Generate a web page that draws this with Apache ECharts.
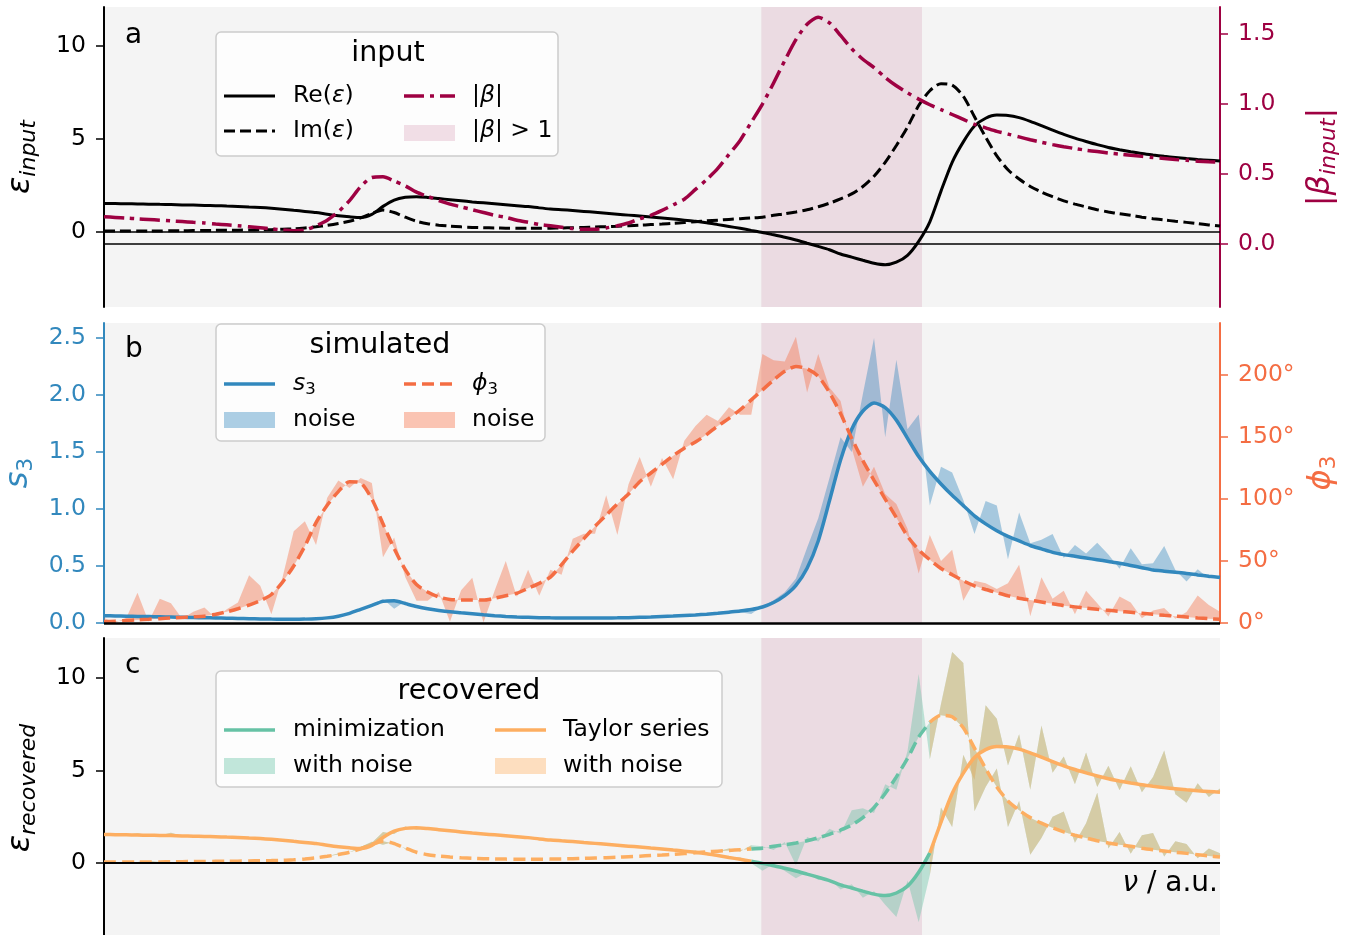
<!DOCTYPE html>
<html>
<head>
<meta charset="utf-8">
<script src="https://cdn.jsdelivr.net/npm/echarts@6/dist/echarts.min.js"></script>
<style>
html, body { margin: 0; background: #fff; }
#chart { width: 1354px; height: 935px; }
</style>
</head>
<body>
<div id="chart"></div>
<script>
// frequency grid (a.u.)
const nu = [0,1,2,3,4,5,6,7,8,9,10,11,12,13,14,15,16,17,18,19,20,21,22,23,24,25,26,27,28,29,
  30,31,32,33,34,35,36,37,38,39,40,41,42,43,44,45,46,47,48,49,50,51,52,53,54,55,56,57,58,59,
  60,61,62,63,64,65,66,67,68,69,70,71,72,73,74,75,76,77,78,79,80,81,82,83,84,85,86,87,88,89,
  90,91,92,93,94,95,96,97,98,99,100];

// input permittivity
const epsRe = [1.54,1.53,1.52,1.51,1.50,1.49,1.48,1.46,1.45,1.43,
  1.42,1.40,1.38,1.35,1.32,1.28,1.23,1.17,1.11,1.05,
  0.96,0.88,0.82,0.78,0.95,1.38,1.72,1.87,1.90,1.86,
  1.80,1.74,1.68,1.62,1.57,1.52,1.47,1.42,1.37,1.30,
  1.24,1.20,1.16,1.11,1.06,1.01,0.96,0.91,0.86,0.81,
  0.76,0.70,0.64,0.58,0.50,0.40,0.30,0.20,0.09,-0.02,
  -0.15,-0.28,-0.43,-0.60,-0.77,-0.95,-1.18,-1.35,-1.52,-1.68,
  -1.76,-1.62,-1.25,-0.50,0.55,2.20,3.75,4.85,5.70,6.12,
  6.29,6.27,6.15,5.95,5.72,5.48,5.25,5.05,4.87,4.70,
  4.55,4.43,4.32,4.22,4.14,4.07,4.01,3.95,3.90,3.86,
  3.82];
const epsIm = [0.05,0.05,0.05,0.06,0.06,0.06,0.07,0.07,0.08,0.08,
  0.09,0.10,0.10,0.11,0.12,0.13,0.15,0.17,0.22,0.28,
  0.36,0.46,0.58,0.76,1.00,1.18,1.05,0.80,0.58,0.45,
  0.37,0.32,0.28,0.25,0.23,0.22,0.21,0.20,0.20,0.20,
  0.21,0.22,0.23,0.25,0.27,0.29,0.31,0.34,0.37,0.40,
  0.43,0.47,0.51,0.55,0.60,0.64,0.68,0.72,0.76,0.80,
  0.90,0.98,1.08,1.20,1.36,1.55,1.78,2.05,2.45,3.00,
  3.75,4.65,5.65,6.80,7.60,7.98,7.90,7.30,6.20,5.10,
  4.10,3.35,2.85,2.45,2.15,1.90,1.68,1.50,1.35,1.20,
  1.08,0.98,0.90,0.80,0.72,0.65,0.58,0.52,0.45,0.38,
  0.32];
const beta = [0.195,0.19,0.185,0.18,0.175,0.17,0.165,0.16,0.155,0.15,
  0.143,0.137,0.13,0.123,0.116,0.108,0.10,0.095,0.10,0.13,
  0.17,0.23,0.31,0.41,0.475,0.48,0.45,0.415,0.37,0.34,
  0.31,0.285,0.265,0.245,0.225,0.205,0.19,0.17,0.155,0.14,
  0.13,0.12,0.11,0.105,0.105,0.115,0.13,0.15,0.18,0.205,
  0.24,0.28,0.32,0.39,0.46,0.54,0.64,0.74,0.87,1.0,
  1.15,1.31,1.46,1.57,1.62,1.58,1.49,1.395,1.32,1.26,
  1.19,1.13,1.08,1.035,0.995,0.96,0.925,0.89,0.855,0.83,
  0.805,0.785,0.765,0.745,0.727,0.71,0.695,0.682,0.67,0.66,
  0.65,0.642,0.634,0.626,0.618,0.611,0.604,0.598,0.592,0.587,
  0.584];
const bigBeta = [58.9, 73.3];

// simulated signal
const s3 = [0.064,0.062,0.06,0.058,0.056,0.054,0.052,0.05,0.048,0.046,
  0.044,0.042,0.04,0.038,0.036,0.034,0.033,0.033,0.034,0.037,
  0.045,0.06,0.085,0.12,0.155,0.19,0.195,0.17,0.145,0.125,
  0.11,0.098,0.09,0.082,0.072,0.064,0.058,0.053,0.05,0.047,
  0.045,0.044,0.043,0.043,0.043,0.044,0.045,0.047,0.05,0.053,
  0.057,0.061,0.066,0.071,0.077,0.085,0.095,0.105,0.118,0.14,
  0.18,0.24,0.33,0.48,0.72,1.07,1.43,1.70,1.86,1.93,
  1.89,1.78,1.62,1.46,1.33,1.22,1.12,1.03,0.94,0.87,
  0.81,0.76,0.72,0.68,0.65,0.62,0.60,0.585,0.57,0.555,
  0.54,0.525,0.505,0.485,0.465,0.455,0.445,0.435,0.422,0.41,
  0.40];
const phi3 = [1,1.5,2,2.5,3,3.5,4,4.5,5,5.5,
  7,9,11.5,14.5,18,23,33,46,62,81,
  95,106,114,113,100,80,60,43,31,25,
  21,19,18.5,18.5,18.5,20,22,24,28,32,
  37,47,58,68,78,87,96,104,114,121,
  128,135,141,146,152,159,165,172,180,188,
  196,203,207,205,199,186,169,149,131,115,
  100,85,70,59,51,44,39,34,30,27,
  24.5,22,20,18.5,17,15.5,14,13,12,11,
  10.2,9.4,8.6,7.8,7,6.2,5.5,4.8,4.1,3.5,
  3];
const s3Noise = [0,0.005,0,-0.005,0.005,0,0.005,-0.005,0,0.005,
  0,0,0.005,0,0,0.005,0,0,0.005,0,
  0.005,0,0.01,-0.01,0.01,0.02,-0.07,0.02,-0.01,0.005,
  0,0.005,0,-0.005,0,0.005,0,0,0.005,0,
  0,0.005,0,-0.005,0,0.005,0,0,0.005,-0.005,
  0,0.005,0,0.01,-0.005,0.01,0.01,-0.01,-0.04,0.01,
  0.02,0.03,0.06,0.18,0.2,0.2,0.2,-0.2,0.15,0.57,
  -0.26,0.53,0.08,0.37,-0.3,0.15,0.2,0.05,-0.16,0.2,
  0.22,-0.2,0.25,0.02,0.08,0.16,-0.03,0.1,0.04,0.15,
  0.06,-0.05,0.15,0.03,0.06,0.22,0.02,-0.07,0.05,-0.02,
  0.02];
const phi3Noise = [3,-1,2,22,-2,16,12,-1,4,7,
  -3,2,5,24,12,-16,4,28,20,-18,
  6,9,-5,4,13,-27,9,-6,-13,-7,
  4,-18,8,18,-18,6,28,-3,15,-10,
  6,-8,10,4,-6,16,-25,8,20,-11,
  5,-19,6,13,16,4,9,-4,-12,29,
  16,8,24,-19,18,4,10,-8,-21,11,
  4,11,6,-19,20,6,20,-16,4,5,
  3,10,27,-13,20,4,12,-6,14,5,
  -5,12,8,-4,3,6,-2,4,18,11,
  6];

// recovered permittivity: deviation of the noisy retrieval from the clean one
const recReNoise = [0,0,0,0.1,0,0,0.15,0,0,0,
  0,0,0,0,0,0,0,0,0,0.05,
  0,0.05,-0.05,0.1,0.15,0.3,-0.15,0.1,-0.1,0.05,
  0,0.05,0,-0.05,0,0.05,0,0,0.05,0,
  0,0.05,0,-0.05,0,0.05,0,0,0.05,-0.05,
  0,0.05,0,0.1,-0.05,0.05,0,0.1,-0.1,-0.4,
  0.1,-0.15,-0.4,0.1,-0.15,0.1,-0.25,0.2,-0.35,0.15,
  -0.5,-1.3,0.3,-2.7,-1.2,0.8,-1.8,1.0,-1.2,2.4,
  1.5,-1.0,0.8,-2.0,1.7,-0.6,0.5,-0.8,1.1,-0.6,
  0.7,-0.5,0.9,-0.4,0.5,2.0,-0.3,-0.7,0.4,-0.3,
  0.2];
const recImNoise = [0,0,0,0,0.05,0,0,0,0,0,
  0,0,0,0,0,0,0,0,0,0,
  0,0.05,0,0.1,0.15,-0.2,0.1,-0.05,0,0,
  0,0,0,0,0,0,0,0,0,0,
  0,0,0,0,0,0,0,0,0,0,
  0,0,0,0,0,0,0.1,-0.1,0.2,0.1,
  -0.2,0.15,-1.2,0.2,-0.2,0.3,-0.2,0.8,0.5,-0.3,
  0.5,-0.7,0.4,3.4,-2.0,0.6,3.5,3.5,-3.4,-1.0,
  1.0,-1.4,0.5,-2.0,-0.8,0.6,1.1,-0.4,0.8,2.6,
  -0.3,0.7,-0.4,0.7,0.9,-0.3,0.6,0.5,-0.2,0.4,
  0.2];

// tick labels
const epsTicks = [0, 5, 10];
const betaTicks = [0, 0.5, 1, 1.5];
const s3Ticks = [0, 0.5, 1, 1.5, 2, 2.5];
const phiTicks = [0, 50, 100, 150, 200];

const FONT = 'DejaVu Sans';
const RED = '#9e0142', ORANGE = '#f46d43', LIGHTORANGE = '#fdae61', GREEN = '#66c2a5', BLUE = '#3288bd';
const shadeColor = 'rgba(158,1,66,0.1)';

// Taylor series is not drawn where |beta| > 1; the minimization curve is hidden under it elsewhere
const inBig = (i) => nu[i] > bigBeta[0] && nu[i] < bigBeta[1];
const outsideBig = (i) => nu[i] < bigBeta[0] - 1.5 || nu[i] > bigBeta[1] + 1.5;
const pairs = (ys, mask) => nu.map((x, i) => [x, mask && mask(i) ? null : ys[i]]);

function curve(name, ys, xi, yi, color, width, dash, z, mask) {
    return {
        type: 'line', name: name, xAxisIndex: xi, yAxisIndex: yi,
        data: pairs(ys, mask), symbol: 'none', smooth: 0.25, silent: true, z: z,
        lineStyle: { color: color, width: width, type: dash || 'solid', cap: 'butt' },
    };
}

// filled area between the clean curve and the noisy one (like fill_between)
function band(name, ys, dev, xi, yi, color, mask) {
    let pts = [];
    ys.forEach((v, i) => pts.push([nu[i], v, v + dev[i]]));
    // contiguous runs outside the mask
    let runs = [], cur = [];
    pts.forEach((p, i) => {
        if (mask && mask(i)) {
            if (cur.length > 1) runs.push(cur);
            cur = [];
        } else {
            cur.push(p);
        }
    });
    if (cur.length > 1) runs.push(cur);
    return {
        type: 'custom', name: name, xAxisIndex: xi, yAxisIndex: yi, silent: true, z: 2, clip: true,
        data: pts, encode: { x: 0, y: [1, 2] },
        renderItem: (params, api) => {
            if (params.dataIndex !== 0) return null;
            return {
                type: 'group',
                children: runs.map((run) => {
                    let top = run.map((p) => api.coord([p[0], p[1]]));
                    let bot = run.slice().reverse().map((p) => api.coord([p[0], p[2]]));
                    return { type: 'polygon', shape: { points: top.concat(bot) }, style: { fill: color } };
                }),
            };
        },
    };
}

function frame(xi, yi, zeroWidth) {
    return {
        type: 'line', xAxisIndex: xi, yAxisIndex: yi, data: [], silent: true, z: 1,
        markArea: { silent: true, itemStyle: { color: shadeColor }, data: [[{ xAxis: bigBeta[0] }, { xAxis: bigBeta[1] }]] },
        markLine: {
            silent: true, symbol: ['none', 'none'], label: { show: false },
            lineStyle: { color: '#000', width: zeroWidth, type: 'solid' }, data: [{ yAxis: 0 }],
        },
    };
}

function zeroLine(xi, yi) {
    return {
        type: 'line', xAxisIndex: xi, yAxisIndex: yi, data: [], silent: true, z: 1,
        markLine: {
            silent: true, symbol: ['none', 'none'], label: { show: false },
            lineStyle: { color: '#000', width: 1.5, type: 'solid' }, data: [{ yAxis: 0 }],
        },
    };
}

function yAxis(grid, pos, min, max, ticks, color, fmt, name, rich, gap) {
    return {
        gridIndex: grid, type: 'value', position: pos, min: min, max: max,
        axisLine: { show: true, onZero: false, lineStyle: { color: color, width: 2 } },
        axisTick: { show: true, length: 8, lineStyle: { color: color, width: 1.5 }, customValues: ticks },
        axisLabel: { customValues: ticks, formatter: fmt, color: color, fontSize: 23.5, fontFamily: FONT, margin: 18 },
        splitLine: { show: false },
        name: name, nameLocation: 'middle', nameRotate: 90, nameGap: gap,
        nameTextStyle: { color: color, fontFamily: FONT, rich: rich },
    };
}

function nameRich(color) {
    return {
        i: { fontSize: 32, fontStyle: 'italic', fontFamily: FONT, color: color, lineHeight: 38, verticalAlign: 'middle' },
        n: { fontSize: 32, fontFamily: FONT, color: color, lineHeight: 38, verticalAlign: 'middle' },
        s: { fontSize: 22, fontStyle: 'italic', fontFamily: FONT, color: color, lineHeight: 16, verticalAlign: 'bottom' },
        d: { fontSize: 22, fontFamily: FONT, color: color, lineHeight: 16, verticalAlign: 'bottom' },
    };
}

const legendRich = {
    n: { fontSize: 23.5, fontFamily: FONT, fill: '#000', lineHeight: 28, verticalAlign: 'middle' },
    i: { fontSize: 23.5, fontStyle: 'italic', fontFamily: FONT, fill: '#000', lineHeight: 28, verticalAlign: 'middle' },
    d: { fontSize: 16.5, fontFamily: FONT, fill: '#000', lineHeight: 12, verticalAlign: 'bottom' },
};

function text(x, y, str, size, align, rich) {
    return {
        type: 'text', silent: true, z: 100,
        style: {
            text: str, x: x, y: y, fill: '#000', fontSize: size, fontFamily: FONT,
            align: align || 'left', verticalAlign: 'middle', textAlign: align || 'left', textVerticalAlign: 'middle',
            rich: rich,
        },
    };
}
function box(x, y, w, h) {
    return { type: 'rect', silent: true, z: 99, shape: { x: x, y: y, width: w, height: h, r: 5 },
        style: { fill: 'rgba(255,255,255,0.8)', stroke: '#cccccc', lineWidth: 1.5 } };
}
function swLine(x, y, color, width, dash) {
    return { type: 'line', silent: true, z: 100, shape: { x1: x, y1: y, x2: x + 51, y2: y },
        style: { stroke: color, lineWidth: width, lineDash: dash || null } };
}
function swRect(x, y, color) {
    return { type: 'rect', silent: true, z: 100, shape: { x: x, y: y - 8, width: 51, height: 16 }, style: { fill: color } };
}

const chart = echarts.init(document.getElementById('chart'));

let series = [];
// panel a
series.push(frame(0, 0, 1.5));
series.push(zeroLine(0, 1));
series.push(curve('Re', epsRe, 0, 0, '#000', 3, null, 3));
series.push(curve('Im', epsIm, 0, 0, '#000', 3, [11, 5], 3));
series.push(curve('beta', beta, 0, 1, RED, 3.5, [20, 6, 4, 6], 4));
// panel b
series.push(frame(1, 2, 2.5));
series.push(band('phi3 noise', phi3, phi3Noise, 1, 3, 'rgba(244,109,67,0.4)'));
series.push(band('s3 noise', s3, s3Noise, 1, 2, 'rgba(50,136,189,0.4)'));
series.push(curve('s3', s3, 1, 2, BLUE, 3.5, null, 3));
series.push(curve('phi3', phi3, 1, 3, ORANGE, 3.5, [12, 6], 4));
// panel c
series.push(frame(2, 4, 2));
series.push(band('min Re noise', epsRe, recReNoise, 2, 4, 'rgba(102,194,165,0.4)'));
series.push(band('min Im noise', epsIm, recImNoise, 2, 4, 'rgba(102,194,165,0.4)'));
series.push(band('taylor Re noise', epsRe, recReNoise, 2, 4, 'rgba(253,174,97,0.4)', inBig));
series.push(band('taylor Im noise', epsIm, recImNoise, 2, 4, 'rgba(253,174,97,0.4)', inBig));
series.push(curve('min Re', epsRe, 2, 4, GREEN, 3.5, null, 3, outsideBig));
series.push(curve('min Im', epsIm, 2, 4, GREEN, 3.5, [12, 6], 3, outsideBig));
series.push(curve('taylor Re', epsRe, 2, 4, LIGHTORANGE, 3.5, null, 4, inBig));
series.push(curve('taylor Im', epsIm, 2, 4, LIGHTORANGE, 3.5, [12, 6], 4, inBig));

const gridBase = {
    left: 104, width: 1116, height: 300, show: true, backgroundColor: '#f4f4f4', borderWidth: 0,
    containLabel: false, outerBoundsMode: 'none',
};

const option = {
    animation: false,
    textStyle: { fontFamily: FONT },
    grid: [
        Object.assign({ top: 7 }, gridBase),
        Object.assign({ top: 323 }, gridBase),
        Object.assign({ top: 638 }, gridBase),
    ],
    xAxis: [0, 1, 2].map((g) => ({ gridIndex: g, type: 'value', min: 0, max: 100, show: false })),
    yAxis: [
        yAxis(0, 'left', -4.03, 12.1, epsTicks, '#000', (v) => String(v),
            '{i|ε}{s|input}', nameRich('#000'), 64),
        yAxis(0, 'right', -0.45, 1.693, betaTicks, RED, (v) => v.toFixed(1),
            '{n||}{i|β}{s|input}{n||}', nameRich(RED), 82),
        yAxis(1, 'left', 0, 2.632, s3Ticks, BLUE, (v) => v.toFixed(1),
            '{i|s}{d|3}', nameRich(BLUE), 62),
        yAxis(1, 'right', 0, 242, phiTicks, ORANGE, (v) => v + '°',
            '{i|ϕ}{d|3}', nameRich(ORANGE), 82),
        yAxis(2, 'left', -4.05, 12.15, epsTicks, '#000', (v) => String(v),
            '{i|ε}{s|recovered}', nameRich('#000'), 64),
    ],
    graphic: [
        text(125, 36, 'a', 28),
        text(125, 350, 'b', 28),
        text(125, 666, 'c', 28),
        text(1218, 884, '{i|ν}{n| / a.u.}', 28, 'right', {
            i: { fontSize: 28, fontStyle: 'italic', fontFamily: FONT, fill: '#000' },
            n: { fontSize: 28, fontFamily: FONT, fill: '#000' },
        }),
        // legend a
        box(216, 32, 342, 124),
        text(388, 54, 'input', 28.5, 'center'),
        swLine(224, 96, '#000', 3),
        text(293, 96, '{n|Re(}{i|ε}{n|)}', 23.5, 'left', legendRich),
        swLine(224, 131, '#000', 3, [11, 5]),
        text(293, 131, '{n|Im(}{i|ε}{n|)}', 23.5, 'left', legendRich),
        swLine(404, 96, RED, 3.5, [20, 6, 4, 6]),
        text(472, 96, '{n||}{i|β}{n||}', 23.5, 'left', legendRich),
        swRect(404, 133, 'rgba(158,1,66,0.12)'),
        text(472, 131, '{n||}{i|β}{n|| > 1}', 23.5, 'left', legendRich),
        // legend b
        box(216, 324, 329, 117),
        text(380, 346, 'simulated', 28.5, 'center'),
        swLine(224, 384, BLUE, 3.5),
        text(293, 384, '{i|s}{d|3}', 23.5, 'left', legendRich),
        swRect(224, 420, 'rgba(50,136,189,0.4)'),
        text(293, 420, 'noise', 23.5),
        swLine(404, 384, ORANGE, 3.5, [12, 6]),
        text(472, 384, '{i|ϕ}{d|3}', 23.5, 'left', legendRich),
        swRect(404, 420, 'rgba(244,109,67,0.4)'),
        text(472, 420, 'noise', 23.5),
        // legend c
        box(216, 671, 506, 116),
        text(469, 692, 'recovered', 28.5, 'center'),
        swLine(224, 730, GREEN, 3.5),
        text(293, 730, 'minimization', 23.5),
        swRect(224, 766, 'rgba(102,194,165,0.4)'),
        text(293, 766, 'with noise', 23.5),
        swLine(495, 730, LIGHTORANGE, 3.5),
        text(563, 730, 'Taylor series', 23.5),
        swRect(495, 766, 'rgba(253,174,97,0.4)'),
        text(563, 766, 'with noise', 23.5),
    ],
    series: series,
};

chart.setOption(option);
</script>
</body>
</html>
